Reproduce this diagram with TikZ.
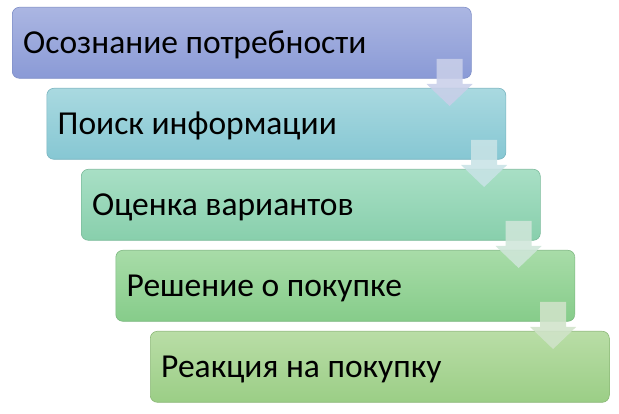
\documentclass[tikz,border=0pt]{standalone}
\usepackage{fontspec}
\setmainfont{Carlito}
\usetikzlibrary{calc}
\definecolor{t1}{HTML}{ABB6E2}\definecolor{u1}{HTML}{8A9AD6}\definecolor{d1}{HTML}{8090C8}\definecolor{a1}{HTML}{C9CFE9}
\definecolor{t2}{HTML}{A9D9E0}\definecolor{u2}{HTML}{86C7D3}\definecolor{d2}{HTML}{7AB5C0}\definecolor{a2}{HTML}{C8E3E6}
\definecolor{t3}{HTML}{A8DFC5}\definecolor{u3}{HTML}{88CFAC}\definecolor{d3}{HTML}{7CBB9C}\definecolor{a3}{HTML}{CFE6D9}
\definecolor{t4}{HTML}{A8DCA8}\definecolor{u4}{HTML}{86CC8A}\definecolor{d4}{HTML}{7CB880}\definecolor{a4}{HTML}{D0E3C9}
\definecolor{t5}{HTML}{B9DDA6}\definecolor{u5}{HTML}{9BCE86}\definecolor{d5}{HTML}{8CB878}
\tikzset{
  stepbox/.style={rounded corners=7pt, minimum width=459pt, minimum height=71pt, inner sep=0pt, anchor=north west, line width=0.6pt},
  steptext/.style={anchor=base west, inner sep=0pt, font=\fontsize{33.5}{40}\selectfont},
  flowarrow/.style={fill opacity=0.88}
}
\newcommand{\mkarrow}[3]{%
  \fill[flowarrow, fill=#3] let \p1=($(#1.north east)+(-22pt,0)$), \p2=(#2.north) in
    (\x1-13pt,\y1-52pt) -- (\x1+13pt,\y1-52pt) -- (\x1+13pt,\y2+4pt) -- (\x1+23pt,\y2+4pt)
    -- (\x1,\y2-18pt) -- (\x1-23pt,\y2+4pt) -- (\x1-13pt,\y2+4pt) -- cycle;}
\begin{document}
\begin{tikzpicture}[x=1pt,y=1pt]
\useasboundingbox (0,0) rectangle (619,414);
\node[stepbox, top color=t1, bottom color=u1, draw=d1] (b1) at (12,407) {};
\node[stepbox, top color=t2, bottom color=u2, draw=d2] (b2) at (46.5,326) {};
\node[stepbox, top color=t3, bottom color=u3, draw=d3] (b3) at (81,245) {};
\node[stepbox, top color=t4, bottom color=u4, draw=d4] (b4) at (115.5,164) {};
\node[stepbox, top color=t5, bottom color=u5, draw=d5] (b5) at (150,83) {};
\node[steptext] (x1) at ($(b1.west)+(11,-10.8)$) {Осознание потребности};
\node[steptext] (x2) at ($(b2.west)+(11,-10.8)$) {Поиск информации};
\node[steptext] (x3) at ($(b3.west)+(11,-10.8)$) {Оценка вариантов};
\node[steptext] (x4) at ($(b4.west)+(11,-10.8)$) {Решение о покупке};
\node[steptext] (x5) at ($(b5.west)+(11,-10.8)$) {Реакция на покупку};
\mkarrow{b1}{b2}{a1}
\mkarrow{b2}{b3}{a2}
\mkarrow{b3}{b4}{a3}
\mkarrow{b4}{b5}{a4}
\end{tikzpicture}
\end{document}
